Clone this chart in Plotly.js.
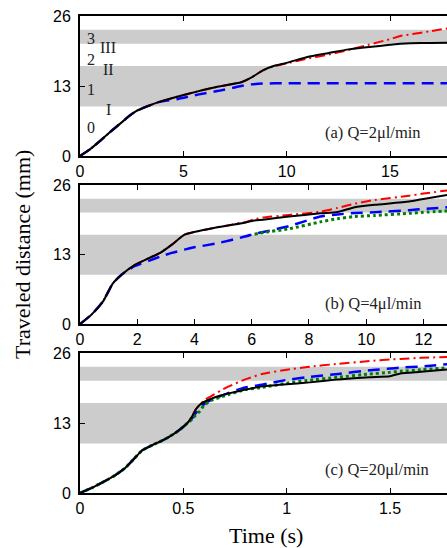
<!DOCTYPE html>
<html>
<head>
<meta charset="utf-8">
<script src="https://cdn.plot.ly/plotly-3.0.1.min.js"></script>
<style>html,body{margin:0;padding:0;overflow:hidden;background:#fff;}#chart{width:460px;height:548px;}</style>
</head>
<body>
<div id="chart"></div>
<script>
// ---------- Panel (a) Q=2 µl/min ----------
const tA = [0, 0.5, 1, 1.5, 2, 2.4, 2.7, 3.1, 3.8, 4.7, 5.7, 6.7, 7.8, 8.3, 8.85, 9.4, 10, 11, 12, 13, 14, 15, 15.5, 16, 17, 18];
const blackA = [0, 1.3, 2.9, 4.6, 6.2, 7.5, 8.3, 9.0, 10.0, 11.0, 12.0, 12.9, 13.7, 14.6, 15.9, 16.75, 17.3, 18.4, 19.1, 19.8, 20.25, 20.65, 20.85, 20.95, 21.0, 21.05];
const redA   = [0, 1.3, 2.9, 4.6, 6.2, 7.5, 8.3, 9.0, 10.0, 11.0, 12.0, 12.9, 13.7, 14.6, 15.9, 16.7, 17.2, 18.1, 18.8, 19.7, 20.7, 21.7, 22.3, 22.6, 23.2, 23.85];
const blueA  = [0, 1.3, 2.9, 4.6, 6.2, 7.5, 8.3, 9.0, 10.0, 10.55, 11.4, 12.1, 13.0, 13.3, 13.45, 13.5, 13.5, 13.5, 13.5, 13.5, 13.5, 13.5, 13.5, 13.5, 13.5, 13.5];

// ---------- Panel (b) Q=4 µl/min ----------
const tB = [0, 0.4, 0.8, 1.15, 1.45, 1.9, 2.4, 2.8, 3.2, 3.65, 3.95, 4.8, 5.8, 6.1, 6.4, 7.3, 8.4, 9, 9.6, 10.3, 11.5, 12, 13];
const blackB = [0, 1.75, 4.2, 7.6, 9.2, 11.0, 12.3, 13.3, 14.8, 16.7, 17.15, 18.1, 19.0, 19.35, 19.5, 20.1, 20.7, 20.95, 21.85, 22.3, 22.9, 23.4, 24.3];
const redB   = [0, 1.75, 4.2, 7.6, 9.2, 11.0, 12.3, 13.3, 14.8, 16.7, 17.15, 18.1, 19.1, 19.6, 19.9, 20.4, 21.0, 21.7, 22.5, 23.2, 24.0, 24.4, 25.1];
const blueB  = [0, 1.75, 4.2, 7.6, 9.2, 10.8, 11.8, 12.6, 13.3, 13.9, 14.3, 15.1, 16.4, 16.9, 17.2, 18.3, 20.1, 20.5, 20.75, 20.9, 21.3, 21.5, 21.9];
const greenB = [null, null, null, null, null, null, null, null, null, null, null, null, null, 16.8, 17.1, 17.8, 19.1, 19.7, 20.1, 20.3, 20.7, 20.9, 21.2];

// ---------- Panel (c) Q=20 µl/min ----------
const tC = [0, 0.06, 0.12, 0.17, 0.22, 0.265, 0.3, 0.35, 0.39, 0.43, 0.47, 0.5, 0.52, 0.545, 0.56, 0.58, 0.6, 0.635, 0.68, 0.72, 0.8, 0.88, 1.0, 1.1, 1.25, 1.4, 1.5, 1.55, 1.65, 1.8];
const blackC = [0, 1.0, 2.2, 3.3, 4.7, 6.5, 7.9, 8.9, 9.6, 10.4, 11.4, 12.3, 13.0, 14.4, 15.5, 16.4, 16.9, 17.5, 18.1, 18.5, 19.2, 19.8, 20.2, 20.5, 21.1, 21.5, 21.7, 22.2, 22.5, 23.0];
const redC   = [0, 1.0, 2.2, 3.3, 4.7, 6.5, 7.9, 8.9, 9.6, 10.4, 11.4, 12.3, 13.0, 14.4, 15.5, 16.4, 17.2, 18.0, 19.0, 19.8, 21.1, 22.1, 22.9, 23.4, 24.0, 24.5, 24.8, 24.9, 25.1, 25.3];
const blueC  = [0, 1.0, 2.2, 3.3, 4.7, 6.5, 7.9, 8.9, 9.6, 10.4, 11.4, 12.3, 13.0, 14.0, 14.8, 15.7, 16.5, 17.3, 18.0, 18.6, 19.6, 20.1, 21.0, 21.5, 22.1, 22.8, 23.1, 23.3, 23.5, 24.0];
const greenC = [0, 1.0, 2.2, 3.3, 4.7, 6.5, 7.9, 8.9, 9.6, 10.4, 11.4, 12.3, 13.0, 13.8, 14.5, 15.2, 16.3, 17.2, 17.8, 18.3, 19.2, 19.6, 20.4, 20.9, 21.5, 22.1, 22.4, 22.6, 22.9, 23.3];

// ---------- Bands, labels, ticks ----------
const bandUpper = [20.85, 23.45];
const bandLower = [9.2, 16.7];
const yTicks = [0, 13, 26];
const xRanges = [[0, 18], [0, 13], [0, 1.8]];
const xDticks = [5, 2, 0.5];
const panelLabels = ['(a) Q=2μl/min', '(b) Q=4μl/min', '(c) Q=20μl/min'];
const zoneDigits = ['3', '2', '1', '0'];
const zoneDigitY = [21.8, 18.0, 12.4, 5.2];
const zoneRoman = ['III', 'II', 'I'];
const zoneRomanY = [20.2, 16.0, 8.7];
const yTitle = 'Traveled distance (mm)';
const xTitle = 'Time (s)';

const RED = '#ff0000', BLUE = '#0000ff', GREEN = '#008000', BLACK = '#000000';
const serif = 'Liberation Serif, Times New Roman, serif';
const sans = 'Liberation Sans, Arial, sans-serif';

function line(x, y, color, dash, width, xa, ya) {
  return {x: x, y: y, xaxis: xa, yaxis: ya, type: 'scatter', mode: 'lines',
          line: {color: color, dash: dash, width: width, shape: 'spline', smoothing: 0.5},
          connectgaps: false, showlegend: false, hoverinfo: 'skip'};
}
const DASHDOT = '10px,4px,2px,4px';
const DASH = '12px,7px';
const DOT = '3px,3px';

const data = [
  line(tA, redA, RED, DASHDOT, 2, 'x', 'y'),
  line(tA, blueA, BLUE, DASH, 2.5, 'x', 'y'),
  line(tA, blackA, BLACK, 'solid', 2, 'x', 'y'),
  line(tB, redB, RED, DASHDOT, 2, 'x2', 'y2'),
  line(tB, blueB, BLUE, DASH, 2.5, 'x2', 'y2'),
  line(tB, greenB, GREEN, DOT, 3, 'x2', 'y2'),
  line(tB, blackB, BLACK, 'solid', 2, 'x2', 'y2'),
  line(tC, redC, RED, DASHDOT, 2, 'x3', 'y3'),
  line(tC, blueC, BLUE, DASH, 2.5, 'x3', 'y3'),
  line(tC, greenC, GREEN, DOT, 3, 'x3', 'y3'),
  line(tC, blackC, BLACK, 'solid', 2, 'x3', 'y3')
];

const H = 548;
const domains = [[(H-156)/H, (H-16)/H], [(H-324)/H, (H-185)/H], [(H-493)/H, (H-353)/H]];

function xax(i, anchor) {
  return {domain: [0, 1], anchor: anchor, range: xRanges[i], dtick: xDticks[i], tick0: 0,
          showline: true, linecolor: BLACK, linewidth: 2, mirror: 'ticks',
          ticks: 'inside', ticklen: 5, tickwidth: 1, tickcolor: BLACK,
          showgrid: false, zeroline: false,
          tickfont: {family: sans, size: 16, color: BLACK}};
}
function yax(i, anchor) {
  return {domain: domains[i], anchor: anchor, range: [0, 26], tickvals: yTicks,
          showline: true, linecolor: BLACK, linewidth: 2, mirror: 'ticks',
          ticks: 'inside', ticklen: 5, tickwidth: 1, tickcolor: BLACK,
          showgrid: false, zeroline: false, ticklabelstandoff: 4,
          tickfont: {family: sans, size: 16, color: BLACK}};
}

const shapes = [];
const refs = [['x', 'y'], ['x2', 'y2'], ['x3', 'y3']];
refs.forEach(function (r) {
  [bandUpper, bandLower].forEach(function (b) {
    shapes.push({type: 'rect', xref: r[0] + ' domain', yref: r[1], x0: 0, x1: 1,
                 y0: b[0], y1: b[1], fillcolor: '#cccccc', line: {width: 0}, layer: 'below'});
  });
});

const annotations = [];
const labelPos = [[16.6, 4.3], [12.03, 3.9], [1.698, 4.45]];
panelLabels.forEach(function (t, i) {
  annotations.push({text: t, xref: refs[i][0], yref: refs[i][1], x: labelPos[i][0], y: labelPos[i][1],
                    xanchor: 'right', yanchor: 'middle', showarrow: false,
                    font: {family: serif, size: 16.5, color: '#222'}});
});
zoneDigits.forEach(function (t, i) {
  annotations.push({text: t, xref: 'x', yref: 'y', x: 0.55, y: zoneDigitY[i], showarrow: false,
                    xanchor: 'center', yanchor: 'middle', font: {family: serif, size: 16, color: '#222'}});
});
zoneRoman.forEach(function (t, i) {
  annotations.push({text: t, xref: 'x', yref: 'y', x: 1.36, y: zoneRomanY[i], showarrow: false,
                    xanchor: 'center', yanchor: 'middle', font: {family: serif, size: 16, color: '#222'}});
});
annotations.push({text: yTitle, xref: 'paper', yref: 'paper', x: (22 - 80) / 372, y: (H - 255) / H,
                  textangle: -90, showarrow: false, xanchor: 'center', yanchor: 'middle',
                  font: {family: serif, size: 22, color: BLACK}});
annotations.push({text: xTitle, xref: 'paper', yref: 'paper', x: 0.5, y: (H - 535) / H,
                  showarrow: false, xanchor: 'center', yanchor: 'middle',
                  font: {family: serif, size: 22, color: BLACK}});

const layout = {
  width: 460, height: H,
  margin: {l: 80, r: 8, t: 0, b: 0},
  paper_bgcolor: '#fff', plot_bgcolor: '#fff',
  showlegend: false,
  xaxis: xax(0, 'y'), yaxis: yax(0, 'x'),
  xaxis2: xax(1, 'y2'), yaxis2: yax(1, 'x2'),
  xaxis3: xax(2, 'y3'), yaxis3: yax(2, 'x3'),
  shapes: shapes,
  annotations: annotations
};

Plotly.newPlot('chart', data, layout, {displayModeBar: false, staticPlot: true});
</script>
</body>
</html>
